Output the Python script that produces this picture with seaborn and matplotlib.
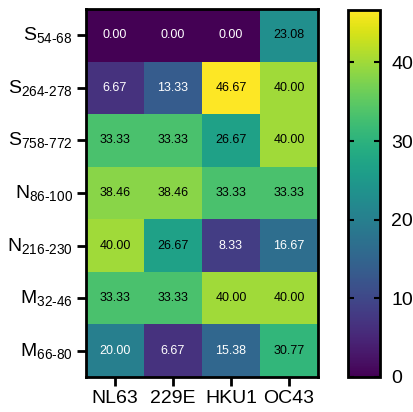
import numpy as np
import pandas as pd
import seaborn as sns
import matplotlib.pyplot as plt

# values
viruses = ['NL63', '229E', 'HKU1', 'OC43']
peptides = [('S', '54-68'), ('S', '264-278'), ('S', '758-772'),
            ('N', '86-100'), ('N', '216-230'), ('M', '32-46'), ('M', '66-80')]
nl63 = [0.00, 6.67, 33.33, 38.46, 40.00, 33.33, 20.00]
e229 = [0.00, 13.33, 33.33, 38.46, 26.67, 33.33, 6.67]
hku1 = [0.00, 46.67, 26.67, 33.33, 8.33, 40.00, 15.38]
oc43 = [23.08, 40.00, 40.00, 33.33, 16.67, 40.00, 30.77]

plt.rcParams['font.family'] = ['Liberation Sans', 'DejaVu Sans']
plt.rcParams['mathtext.fontset'] = 'custom'
plt.rcParams['mathtext.rm'] = 'Liberation Sans'
plt.rcParams['mathtext.it'] = 'Liberation Sans'

row_labels = [p + r'$_{\mathregular{' + r.replace('-', r'\text{-}') + '}}$' for p, r in peptides]
df = pd.DataFrame({'NL63': nl63, '229E': e229, 'HKU1': hku1, 'OC43': oc43}, index=row_labels)

fig = plt.figure(figsize=(4.13, 4.12), dpi=100)
ax = fig.add_axes([0.208, 0.085, 0.562, 0.893])
cax = fig.add_axes([0.843, 0.085, 0.0775, 0.891])

sns.heatmap(df, ax=ax, cbar_ax=cax, cmap='viridis', vmin=0, vmax=46.67,
            annot=True, fmt='.2f', annot_kws={'fontsize': 9})

# text colour: white on dark cells
for t, v in zip(ax.texts, df.values.flatten()):
    t.set_color('black' if v > 21 else 'white')

for s in ax.spines.values():
    s.set_visible(True)
    s.set_linewidth(2)
ax.tick_params(width=2, length=6.5, labelsize=14, color='black', pad=3)
ax.set_yticklabels(row_labels, rotation=0)
ax.set_xticklabels(viruses, rotation=0)

cbar = ax.collections[0].colorbar
cbar.set_ticks([0, 10, 20, 30, 40])
cax.tick_params(direction='in', width=1.5, length=4, labelsize=14, left=True, right=True, pad=8)
cbar.outline.set_linewidth(2)
cbar.outline.set_edgecolor('black')

fig.savefig('out.png', dpi=100)
